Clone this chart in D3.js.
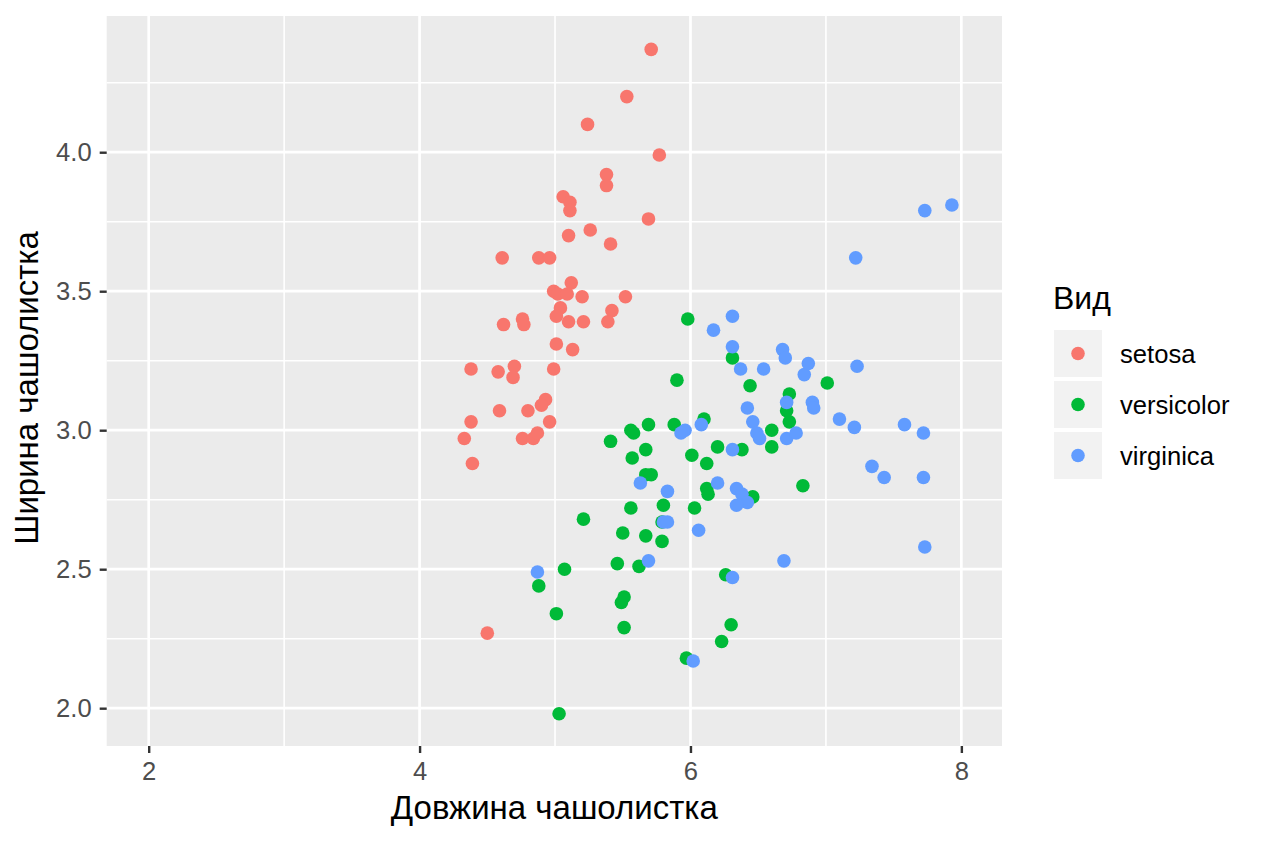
<!DOCTYPE html>
<html>
<head>
<meta charset="utf-8">
<script src="https://cdn.jsdelivr.net/npm/d3@7"></script>
<style>
body { margin: 0; background: #fff; }
text { font-family: "Liberation Sans", Arial, sans-serif; }
</style>
</head>
<body>
<div id="chart"></div>
<script>
// values (jittered iris sepals)
var species = ["setosa", "versicolor", "virginica"]
var colors = ["#F8766D", "#00BA38", "#619CFF"]
var xTicks = [2, 4, 6, 8]
var yTicks = [2.0, 2.5, 3.0, 3.5, 4.0]
var xMinor = [3, 5, 7]
var yMinor = [2.25, 2.75, 3.25, 3.75, 4.25]

var setosaX = [5.71,5.53,5.24,5.77,5.38,5.38,5.06,5.11,5.11,5.69,5.26,5.10,5.41,4.61,4.88,4.96,5.12,4.99,5.02,5.09,5.20,5.52,5.04,5.01,5.42,5.39,4.62,4.76,4.77,5.10,5.21,5.01,5.13,4.38,4.58,4.70,4.69,4.99,4.93,4.90,4.59,4.80,4.96,4.38,4.33,4.76,4.84,4.87,4.39,4.50]
var setosaY = [4.37,4.20,4.10,3.99,3.92,3.88,3.84,3.82,3.79,3.76,3.72,3.70,3.67,3.62,3.62,3.62,3.53,3.50,3.49,3.49,3.48,3.48,3.44,3.41,3.43,3.39,3.38,3.40,3.38,3.39,3.39,3.31,3.29,3.22,3.21,3.23,3.19,3.22,3.11,3.09,3.07,3.07,3.03,3.03,2.97,2.97,2.97,2.99,2.88,2.27]

var versicolorX = [5.98,6.31,5.90,6.44,6.73,6.71,6.73,6.10,5.69,5.88,5.56,5.58,5.41,6.60,6.60,5.67,6.20,6.38,6.01,5.57,6.12,5.67,5.71,6.12,6.13,6.46,6.83,5.56,5.80,6.03,5.79,5.50,5.67,5.79,5.46,5.62,6.26,5.51,5.49,5.51,6.30,6.23,5.97,5.21,5.07,4.88,5.01,5.03,7.01]
var versicolorY = [3.40,3.26,3.18,3.16,3.13,3.07,3.03,3.04,3.02,3.02,3.00,2.99,2.96,3.00,2.94,2.93,2.94,2.93,2.91,2.90,2.88,2.84,2.84,2.79,2.77,2.76,2.80,2.72,2.73,2.72,2.67,2.63,2.62,2.60,2.52,2.51,2.48,2.40,2.38,2.29,2.30,2.24,2.18,2.68,2.50,2.44,2.34,1.98,3.17]

var virginicaX = [6.31,6.17,6.31,6.68,6.70,6.37,6.54,6.84,6.87,7.23,6.42,6.71,6.46,6.49,6.51,6.71,6.78,5.96,5.93,6.08,6.31,5.63,5.83,6.20,6.34,6.38,6.42,6.34,5.80,5.83,6.06,5.69,6.69,6.31,6.02,4.87,7.73,7.93,7.22,6.90,6.91,7.10,7.21,7.58,7.72,7.34,7.43,7.72,7.73]
var virginicaY = [3.41,3.36,3.30,3.29,3.26,3.22,3.22,3.20,3.24,3.23,3.08,3.10,3.03,2.99,2.97,2.97,2.99,3.00,2.99,3.02,2.93,2.81,2.78,2.81,2.79,2.77,2.74,2.73,2.67,2.67,2.64,2.53,2.53,2.47,2.17,2.49,3.79,3.81,3.62,3.10,3.08,3.04,3.01,3.02,2.99,2.87,2.83,2.83,2.58]

var allX = [setosaX, versicolorX, virginicaX]
var allY = [setosaY, versicolorY, virginicaY]

// flat point list for the library
var points = []
species.forEach(function(s, k) {
	allX[k].forEach(function(v, i) {
		points.push({ sp: k, x: v, y: allY[k][i] })
	})
})

// panel edges ("top" is taken by window.top, so prefixed)
var pLeft = 106.7, pRight = 1002, pTop = 16, pBottom = 746

var svg = d3.select('#chart')
	.append('svg')
	.attr('width', 1264)
	.attr('height', 843)

var x = d3.scaleLinear().domain([1.69, 8.30]).range([pLeft, pRight])
var y = d3.scaleLinear().domain([1.864, 4.49]).range([pBottom, pTop])

// panel
svg.append('rect')
	.attr('x', pLeft)
	.attr('y', pTop)
	.attr('width', pRight - pLeft)
	.attr('height', pBottom - pTop)
	.attr('fill', '#EBEBEB')

var grid = svg.append('g')
grid.selectAll('.xminor').data(xMinor).enter().append('line')
	.attr('x1', function(d) { return x(d) }).attr('x2', function(d) { return x(d) })
	.attr('y1', pTop).attr('y2', pBottom)
	.attr('stroke', '#fff').attr('stroke-width', 1.6)
grid.selectAll('.yminor').data(yMinor).enter().append('line')
	.attr('y1', function(d) { return y(d) }).attr('y2', function(d) { return y(d) })
	.attr('x1', pLeft).attr('x2', pRight)
	.attr('stroke', '#fff').attr('stroke-width', 1.6)
grid.selectAll('.xmajor').data(xTicks).enter().append('line')
	.attr('x1', function(d) { return x(d) }).attr('x2', function(d) { return x(d) })
	.attr('y1', pTop).attr('y2', pBottom)
	.attr('stroke', '#fff').attr('stroke-width', 2.7)
grid.selectAll('.ymajor').data(yTicks).enter().append('line')
	.attr('y1', function(d) { return y(d) }).attr('y2', function(d) { return y(d) })
	.attr('x1', pLeft).attr('x2', pRight)
	.attr('stroke', '#fff').attr('stroke-width', 2.7)

// points
svg.append('g').selectAll('circle')
	.data(points)
	.enter().append('circle')
	.attr('cx', function(d) { return x(d.x) })
	.attr('cy', function(d) { return y(d.y) })
	.attr('r', 6.8)
	.attr('fill', function(d) { return colors[d.sp] })

// axes
var xAxis = svg.append('g')
	.attr('transform', 'translate(0,' + pBottom + ')')
	.call(d3.axisBottom(x).tickValues(xTicks).tickSize(7).tickPadding(9).tickFormat(d3.format('d')))
var yAxis = svg.append('g')
	.attr('transform', 'translate(' + pLeft + ',0)')
	.call(d3.axisLeft(y).tickValues(yTicks).tickSize(7).tickPadding(8).tickFormat(d3.format('.1f')))

;[xAxis, yAxis].forEach(function(a) {
	a.select('.domain').remove()
	a.selectAll('line').attr('stroke', '#333333').attr('stroke-width', 2.4)
	a.selectAll('text')
		.attr('fill', '#4D4D4D')
		.style('font-size', '25.6px')
		.style('font-family', '"Liberation Sans", Arial, sans-serif')
})

// titles
svg.append('text')
	.attr('x', (pLeft + pRight) / 2)
	.attr('y', 819)
	.attr('text-anchor', 'middle')
	.style('font-size', '33px')
	.text('Довжина чашолистка')
svg.append('text')
	.attr('transform', 'translate(37.5,388) rotate(-90)')
	.attr('text-anchor', 'middle')
	.style('font-size', '33px')
	.text('Ширина чашолистка')

// legend
var legend = svg.append('g')
legend.append('text')
	.attr('x', 1053)
	.attr('y', 309)
	.style('font-size', '32px')
	.text('Вид')
var keys = legend.selectAll('.key').data(species).enter().append('g')
	.attr('transform', function(d, i) { return 'translate(1054,' + (330 + i * 51) + ')' })
keys.append('rect')
	.attr('width', 48).attr('height', 47)
	.attr('fill', '#F2F2F2')
keys.append('circle')
	.attr('cx', 24).attr('cy', 23.5).attr('r', 6.8)
	.attr('fill', function(d, i) { return colors[i] })
keys.append('text')
	.attr('x', 66).attr('y', 23.5)
	.attr('dy', '0.36em')
	.style('font-size', '25.6px')
	.text(function(d) { return d })
</script>
</body>
</html>
